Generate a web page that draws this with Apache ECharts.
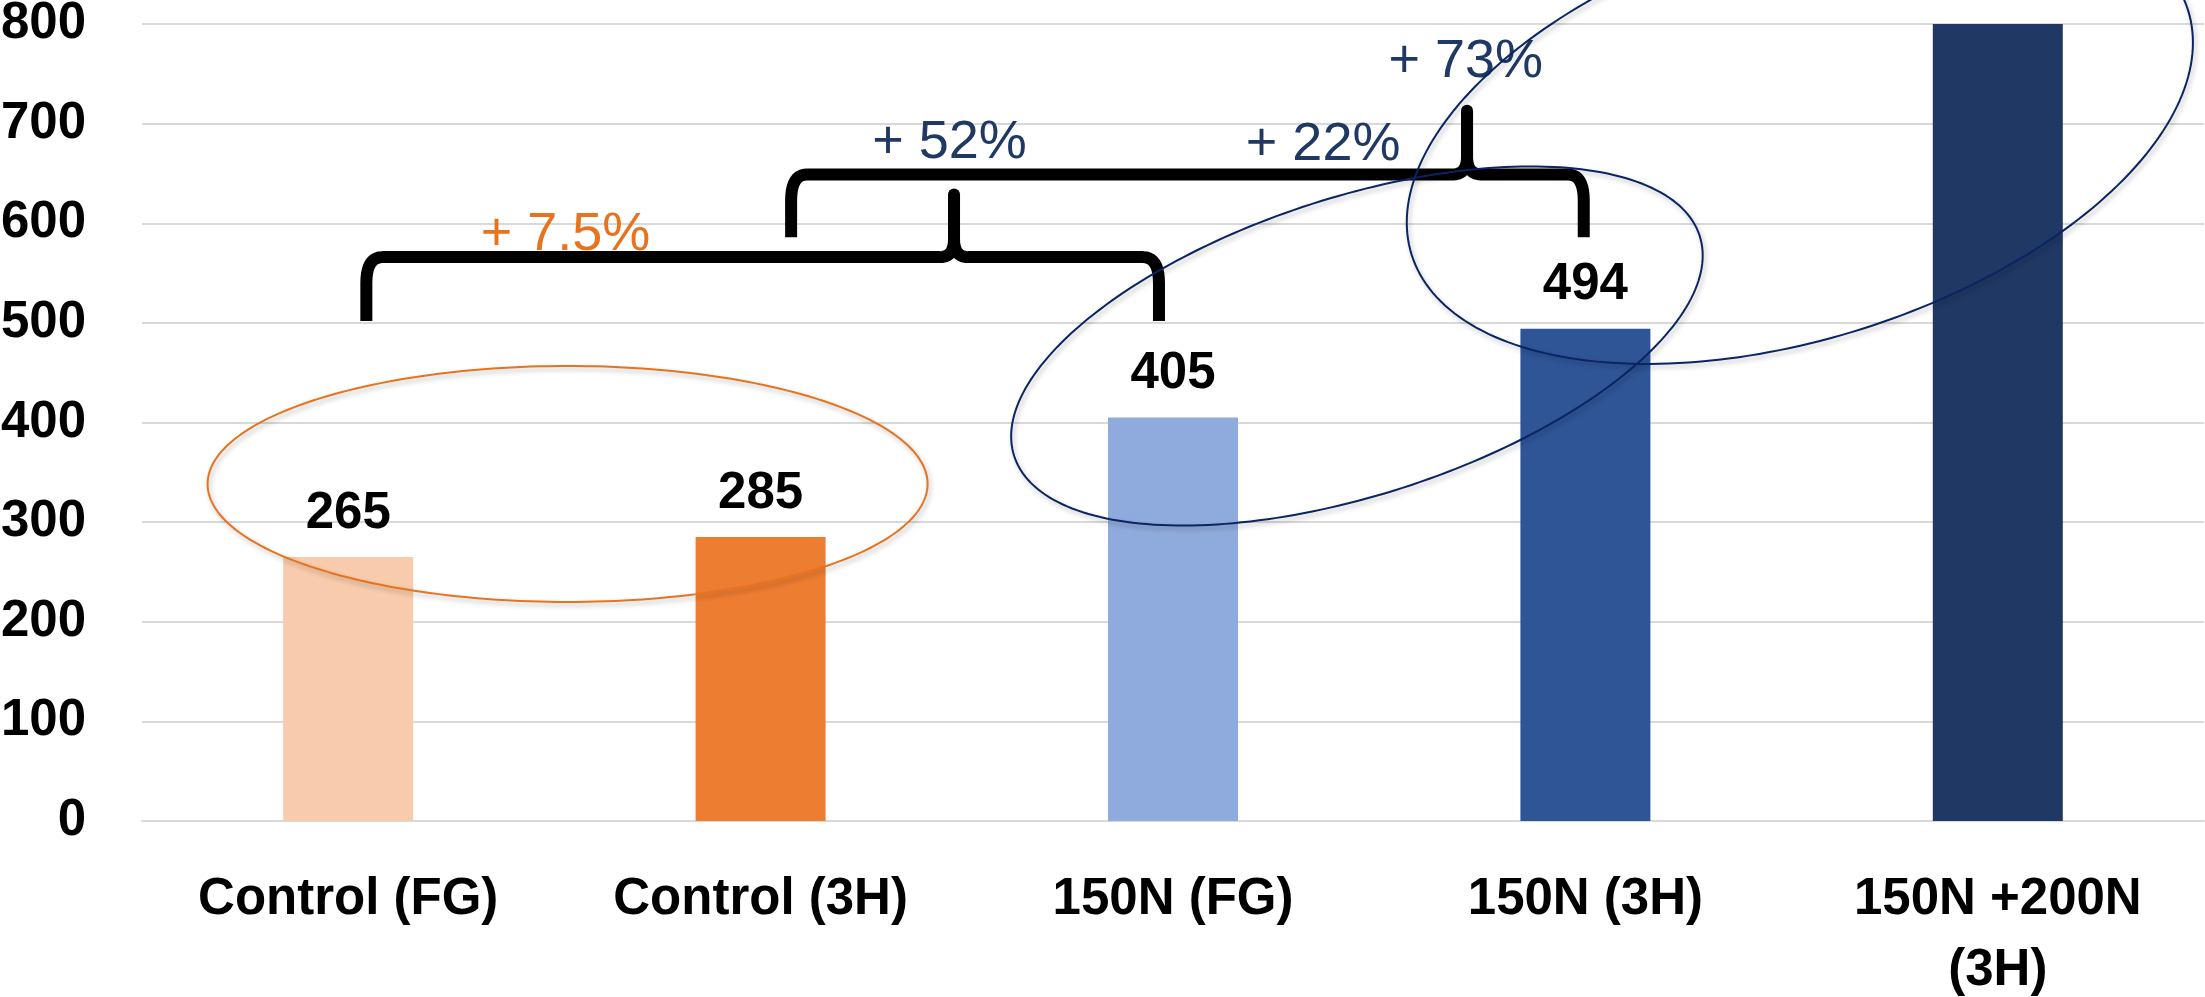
<!DOCTYPE html>
<html>
<head>
<meta charset="utf-8">
<script src="https://cdn.jsdelivr.net/npm/echarts@6/dist/echarts.min.js"></script>
<style>
  html, body { margin: 0; padding: 0; background: #ffffff; }
  #chart { width: 2205px; height: 997px; }
</style>
</head>
<body>
<div id="chart"></div>
<script>
// Yield by treatment
const categories = ['Control (FG)', 'Control (3H)', '150N (FG)', '150N (3H)', '150N +200N\n(3H)'];
const yieldValues = [265, 285, 405, 494, 800];
const barColors = ['#F7CBAC', '#ED7D31', '#8FAADC', '#2F5597', '#203864'];
const yTicks = [0, 100, 200, 300, 400, 500, 600, 700, 800];
// Relative gains shown above the bars
const gainLabels = ['+ 7.5%', '+ 52%', '+ 22%', '+ 73%'];

const BOLD_FONT = "'Liberation Sans', Arial, sans-serif";
const TEXT_FONT = "'Liberation Sans', Arial, sans-serif";
const ORANGE = '#E8731F';
const NAVY_TEXT = '#1F3864';
const NAVY_LINE = '#0A2464';

const chart = echarts.init(document.getElementById('chart'), null, { renderer: 'canvas' });
const yMax = yTicks[yTicks.length - 1];

const option = {
  animation: false,
  backgroundColor: '#ffffff',
  grid: { left: 142, right: 1, top: 24, bottom: 176, containLabel: false, outerBoundsMode: 'none' },
  xAxis: {
    type: 'category',
    data: categories,
    axisLine: { show: true, lineStyle: { color: '#D9D9D9', width: 2 } },
    axisTick: { show: false },
    axisLabel: {
      interval: 0,
      margin: 43,
      color: '#000000',
      fontFamily: BOLD_FONT,
      fontWeight: 'bold',
      fontSize: 51,
      lineHeight: 71
    }
  },
  yAxis: {
    type: 'value',
    min: yTicks[0],
    max: yMax,
    interval: yTicks[1] - yTicks[0],
    axisLine: { show: false },
    axisTick: { show: false },
    splitLine: { show: true, lineStyle: { color: '#D9D9D9', width: 2 } },
    axisLabel: {
      margin: 56,
      color: '#000000',
      fontFamily: BOLD_FONT,
      fontWeight: 'bold',
      fontSize: 51
    }
  },
  series: [{
    type: 'bar',
    barWidth: 130,
    data: yieldValues.map((v, i) => ({
      value: v,
      itemStyle: { color: barColors[i] },
      label: { show: v < yMax }
    })),
    label: {
      position: 'top',
      distance: 18,
      color: '#000000',
      fontFamily: BOLD_FONT,
      fontWeight: 'bold',
      fontSize: 51
    }
  }]
};

chart.setOption(option);

// Helpers mapping fractional category positions and values to pixels
const xc = c => {
  const a = chart.convertToPixel({ xAxisIndex: 0 }, categories[0]);
  const b = chart.convertToPixel({ xAxisIndex: 0 }, categories[1]);
  return a + c * (b - a);
};
const yv = v => chart.convertToPixel({ yAxisIndex: 0 }, v);

function ellipsePoints(cx, cy, a, b, tiltDeg) {
  const t = tiltDeg * Math.PI / 180;
  const pts = [];
  const n = 240;
  for (let i = 0; i < n; i++) {
    const th = i / n * 2 * Math.PI;
    const ex = a * Math.cos(th), ey = b * Math.sin(th);
    pts.push([cx + ex * Math.cos(t) - ey * Math.sin(t),
              cy - (ex * Math.sin(t) + ey * Math.cos(t))]);
  }
  return pts;
}

// Quadratic curve sampled into points (start point excluded)
function quad(p0, p1, p2, n) {
  const out = [];
  for (let i = 1; i <= n; i++) {
    const t = i / n, u = 1 - t;
    out.push([u * u * p0[0] + 2 * u * t * p1[0] + t * t * p2[0],
              u * u * p0[1] + 2 * u * t * p1[1] + t * t * p2[1]]);
  }
  return out;
}

// One half of a downward-opening curly brace: from an arm end up to the point
function braceHalf(xArm, xTip, yH, yB, yT, dir) {
  const rx = 16, ry = 26, tx = 14, ty = 18;
  const pts = [[xArm, yB], [xArm, yH + ry]];
  pts.push(...quad([xArm, yH + ry], [xArm, yH], [xArm + dir * rx, yH], 10));
  pts.push([xTip - dir * tx, yH]);
  pts.push(...quad([xTip - dir * tx, yH], [xTip, yH], [xTip, yH - ty], 10));
  pts.push([xTip, yT + 6]);
  return pts;
}

function brace(c0, c1, cTip, vH, vB, vT) {
  const x0 = xc(c0), x1 = xc(c1), xt = xc(cTip);
  const yH = yv(vH), yB = yv(vB), yT = yv(vT);
  const lineStyle = { fill: 'none', stroke: '#000000', lineWidth: 12, lineJoin: 'round', lineCap: 'butt' };
  return [
    { type: 'polyline', z: 60, shape: { points: braceHalf(x0, xt, yH, yB, yT, 1) }, style: lineStyle },
    { type: 'polyline', z: 60, shape: { points: braceHalf(x1, xt, yH, yB, yT, -1) }, style: lineStyle },
    { type: 'circle', z: 60, shape: { cx: xt, cy: yT + 6, r: 6 }, style: { fill: '#000000' } }
  ];
}

function ring(c, v, a, b, tilt, color) {
  return {
    type: 'polygon', z: 70,
    shape: { points: ellipsePoints(xc(c), yv(v), a, b, tilt) },
    style: {
      fill: 'none', stroke: color, lineWidth: 2,
      shadowBlur: 5, shadowColor: 'rgba(0,0,0,0.28)', shadowOffsetX: 2, shadowOffsetY: 3
    }
  };
}

function gainText(text, c, v, color) {
  return {
    type: 'text', z: 50,
    x: xc(c), y: yv(v),
    style: {
      text: text, fill: color,
      fontFamily: TEXT_FONT, fontSize: 54, fontWeight: 'normal',
      align: 'center', verticalAlign: 'middle'
    }
  };
}

const graphics = [
  gainText(gainLabels[0], 0.527, 588, ORANGE),
  gainText(gainLabels[1], 1.458, 680, NAVY_TEXT),
  gainText(gainLabels[2], 2.364, 678, NAVY_TEXT),
  gainText(gainLabels[3], 2.71, 762, NAVY_TEXT),
  ...brace(0.044, 1.966, 1.469, 566, 502, 635),
  ...brace(1.074, 2.996, 2.713, 649, 586, 719),
  ring(0.532, 338.3, 360, 118, 0, ORANGE),
  ring(2.446, 476.8, 360, 149, 17.8, NAVY_LINE),
  ring(3.52, 691.1, 407, 206, 17.5, NAVY_LINE)
];

chart.setOption({ graphic: graphics });
</script>
</body>
</html>
